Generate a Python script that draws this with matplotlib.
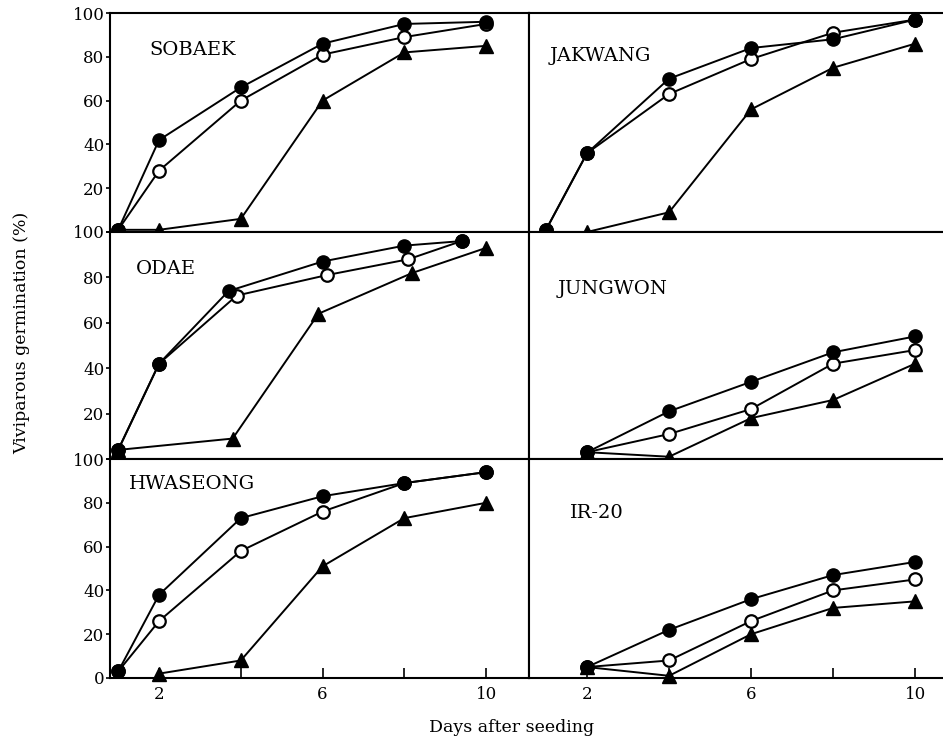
import numpy as np
import matplotlib.pyplot as plt

plt.rcParams['font.family'] = 'DejaVu Serif'

# days after seeding
days = [1, 2, 4, 6, 8, 10]
days_late = [2, 4, 6, 8, 10]

# SOBAEK
sobaek_filled = [1, 42, 66, 86, 95, 96]
sobaek_open = [1, 28, 60, 81, 89, 95]
sobaek_tri = [1, 1, 6, 60, 82, 85]

# JAKWANG
jakwang_filled = [1, 36, 70, 84, 88, 97]
jakwang_open = [1, 36, 63, 79, 91, 97]
jakwang_tri = [0, 0, 9, 56, 75, 86]

# ODAE (circles drawn a bit off the grid in the original)
odae_days_filled = [1, 2, 3.7, 6, 8, 9.4]
odae_days_open = [1, 2, 3.9, 6.1, 8.1, 9.4]
odae_days_tri = [1, 3.8, 5.9, 8.2, 10]
odae_filled = [4, 42, 74, 87, 94, 96]
odae_open = [4, 42, 72, 81, 88, 96]
odae_tri = [4, 9, 64, 82, 93]

# JUNGWON
jungwon_filled = [3, 21, 34, 47, 54]
jungwon_open = [3, 11, 22, 42, 48]
jungwon_tri = [3, 1, 18, 26, 42]

# HWASEONG
hwa_days_tri = [2, 4, 6, 8, 10]
hwa_filled = [3, 38, 73, 83, 89, 94]
hwa_open = [3, 26, 58, 76, 89, 94]
hwa_tri = [2, 8, 51, 73, 80]

# IR-20
ir_filled = [5, 22, 36, 47, 53]
ir_open = [5, 8, 26, 40, 45]
ir_tri = [5, 1, 20, 32, 35]

W, H = 943.0, 740.0
cols = [(110, 529), (529, 943)]
rows = [(13, 232), (232, 459), (459, 678)]
xlims = [(0.80, 11.05), (0.585, 10.68)]

# row, col, name, name position, (tri, open, filled) as (x, y)
panels = [
    (0, 0, 'SOBAEK', (0.095, 0.83),
     (days, sobaek_tri), (days, sobaek_open), (days, sobaek_filled)),
    (0, 1, 'JAKWANG', (0.05, 0.805),
     (days, jakwang_tri), (days, jakwang_open), (days, jakwang_filled)),
    (1, 0, 'ODAE', (0.062, 0.835),
     (odae_days_tri, odae_tri), (odae_days_open, odae_open), (odae_days_filled, odae_filled)),
    (1, 1, 'JUNGWON', (0.068, 0.75),
     (days_late, jungwon_tri), (days_late, jungwon_open), (days_late, jungwon_filled)),
    (2, 0, 'HWASEONG', (0.045, 0.885),
     (hwa_days_tri, hwa_tri), (days, hwa_open), (days, hwa_filled)),
    (2, 1, 'IR-20', (0.1, 0.755),
     (days_late, ir_tri), (days_late, ir_open), (days_late, ir_filled)),
]

fig = plt.figure(figsize=(9.43, 7.40), dpi=100)

for r, c, name, pos, tri, opn, fil in panels:
    l, rr = cols[c]
    t, b = rows[r]
    ax = fig.add_axes([l / W, 1 - b / H, (rr - l) / W, (b - t) / H])
    ax.set_xlim(*xlims[c])
    ax.set_ylim(0, 100)
    for s in ax.spines.values():
        s.set_linewidth(1.5)

    ax.plot(tri[0], tri[1], color='k', lw=1.4, marker='^', ms=9.5, mfc='k', mec='k', clip_on=False, zorder=3)
    ax.plot(opn[0], opn[1], color='k', lw=1.4, marker='o', ms=9, mfc='white', mec='k', mew=1.6, clip_on=False, zorder=4)
    ax.plot(fil[0], fil[1], color='k', lw=1.4, marker='o', ms=9.5, mfc='k', mec='k', clip_on=False, zorder=5)

    ax.text(pos[0], pos[1], name, transform=ax.transAxes, fontsize=14, ha='left', va='center')

    if c == 0:
        ax.set_yticks([0, 20, 40, 60, 80, 100])
        if r == 2:
            ax.set_yticklabels(['0', '20', '40', '60', '80', '100'])
        else:
            ax.set_yticklabels(['', '20', '40', '60', '80', '100'])
        ax.tick_params(axis='y', direction='out', length=3, width=1.2, labelsize=12, pad=1)
    else:
        ax.spines['right'].set_visible(False)
        ax.set_yticks([])

    ax.set_xticks([2, 4, 6, 8, 10])
    if r == 2:
        ax.set_xticklabels(['2', '', '6', '', '10'])
        ax.tick_params(axis='x', direction='in', length=7, width=1.2, labelsize=12, pad=6)
    else:
        ax.tick_params(axis='x', bottom=False, labelbottom=False)

fig.text(0.023, 1 - 333 / H, 'Viviparous germination (%)', rotation=90, fontsize=12.5, ha='center', va='center')
fig.text(512 / W, 1 - 728 / H, 'Days after seeding', fontsize=12.5, ha='center', va='center')

plt.savefig('out.png', dpi=100)
